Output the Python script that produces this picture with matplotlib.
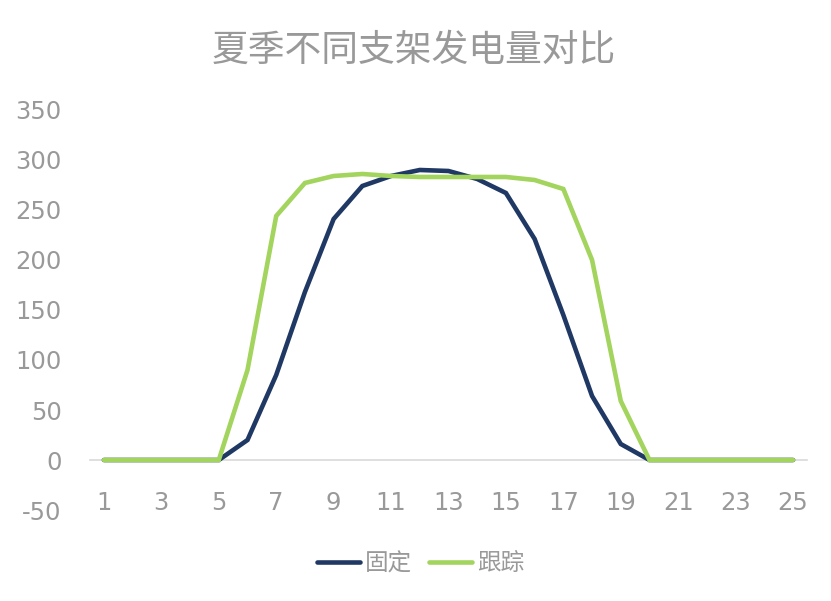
import matplotlib
matplotlib.use("Agg")
import matplotlib.pyplot as plt

# 数据
hours = list(range(1, 26))
fixed = [0, 0, 0, 0, 0, 20, 85, 168, 241, 274, 284, 290, 289, 281, 267,
         221, 145, 64, 16, 0, 0, 0, 0, 0, 0]
tracking = [0, 0, 0, 0, 0, 90, 244, 277, 284, 286, 284, 283, 283, 283, 283,
            280, 271, 200, 59, 0, 0, 0, 0, 0, 0]
xtick_labels = [str(h) for h in range(1, 26, 2)]
series_names = ["固定", "跟踪"]

navy = "#1F3864"
green = "#A2D45E"
gray = "#999999"
cjk = ["Noto Sans CJK SC", "DejaVu Sans"]

plt.rcParams["axes.unicode_minus"] = False

fig = plt.figure(figsize=(8.31, 6.01), dpi=100)
ax = fig.add_axes([0.1078, 0.1514, 0.8638, 0.6656])

l1, = ax.plot(hours, fixed, color=navy, lw=3.3, solid_capstyle="round",
              solid_joinstyle="miter", label=series_names[0])
l2, = ax.plot(hours, tracking, color=green, lw=3.3, solid_capstyle="round",
              solid_joinstyle="miter", label=series_names[1])

ax.set_xlim(0.5, 25.5)
ax.set_ylim(-50, 350)
ax.set_yticks(range(-50, 351, 50))
ax.set_xticks(range(1, 26, 2))
ax.set_xticklabels(xtick_labels)

for s in ["top", "right", "left"]:
    ax.spines[s].set_visible(False)
ax.spines["bottom"].set_position(("data", 0))
ax.spines["bottom"].set_color("#D9D9D9")
ax.spines["bottom"].set_linewidth(1.2)
ax.spines["bottom"].set_zorder(0)

ax.tick_params(axis="x", length=0, pad=22, labelsize=17.5, labelcolor=gray)
ax.tick_params(axis="y", length=0, pad=20, labelsize=17.5, labelcolor=gray)

fig.text(0.498, 0.917, "夏季不同支架发电量对比", ha="center", va="center",
         fontsize=26.5, color=gray, family=cjk)

fig.legend(handles=[l1, l2], loc="center", bbox_to_anchor=(0.506, 0.062),
           ncol=2, frameon=False, handlelength=1.85, handletextpad=0.2,
           columnspacing=0.7, prop={"family": cjk, "size": 17},
           labelcolor=gray)

fig.savefig("out.png", dpi=100)
